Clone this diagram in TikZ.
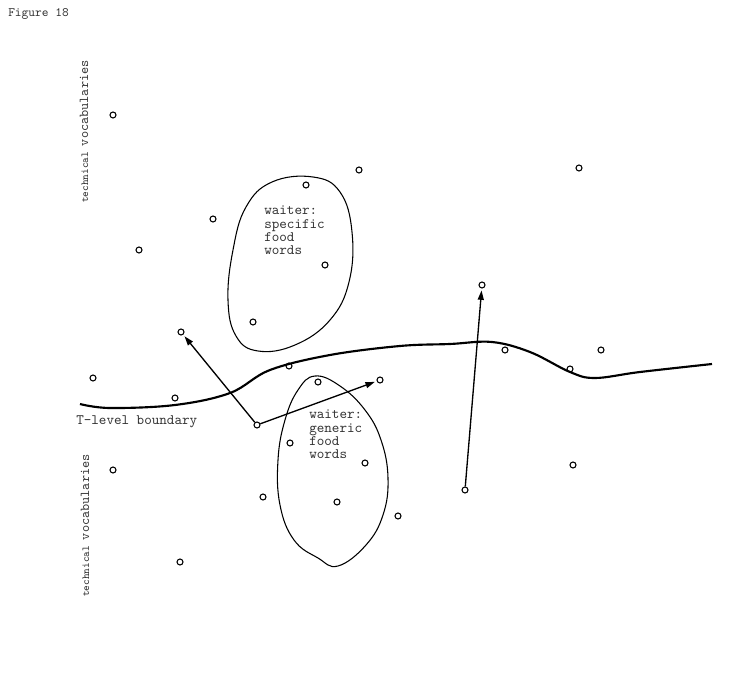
\documentclass[tikz,border=0pt]{standalone}
\usepackage{fontspec}
\usetikzlibrary{arrows.meta}
\begin{document}
\begin{tikzpicture}[x=0.75pt,y=-0.75pt,
  pt/.style={circle,draw,line width=0.8pt,inner sep=0pt,minimum size=4.5pt},
  lbl/.style={font=\ttfamily\fontsize{10.8}{10}\selectfont,text=black!80,align=left,inner sep=0pt},
  blob/.style={draw,line width=0.8pt},
  arr/.style={line width=1pt,-{Triangle[length=7pt,width=4.5pt]},shorten >=1.5pt}]
\useasboundingbox (0,0) rectangle (750,695);
\node[anchor=west,font=\ttfamily\fontsize{9.6}{9}\selectfont,text=black!80,inner sep=0pt] (fig) at (8,14) {Figure 18};
\node[rotate=90,anchor=base west,inner sep=0pt,text=black!80,font=\ttfamily] (tv1) at (88,203)
  {\fontsize{8}{8}\selectfont technical \fontsize{10.2}{10}\selectfont vocabularies};
\node[rotate=90,anchor=base west,inner sep=0pt,text=black!80,font=\ttfamily] (tv2) at (89,597)
  {\fontsize{8}{8}\selectfont technical \fontsize{10.2}{10}\selectfont vocabularies};
% boundary
\draw[line width=1.6pt] plot[smooth,tension=0.6] coordinates {(80,404) (110,408) (175,405) (230,393) (270,370) (330,355) (400,346) (450,344) (492,342) (530,352) (570,372) (595,378) (640,372) (712,364)};
\node[anchor=west,lbl] (tlb) at (76,422) {T-level boundary};
% blobs
\draw[blob] plot[smooth cycle,tension=0.7] coordinates {(313,177) (340,192) (352,232) (349,282) (330,320) (295,345) (258,351) (236,336) (228,300) (233,250) (246,207) (272,182)};
\draw[blob] plot[smooth cycle,tension=0.7] coordinates {(315,376) (340,386) (365,410) (381,440) (388,478) (383,515) (366,545) (338,566) (318,558) (294,540) (280,505) (278,460) (285,420) (298,390)};
\node[anchor=north west,lbl] (t1) at (264,206) {waiter:\\specific\\food\\words};
\node[anchor=north west,lbl] (t2) at (309,410) {waiter:\\generic\\food\\words};
% points
\foreach \i/\x/\y in {a/113/115, b/359/170, c/579/168, d/306/185, e/213/219, f/139/250, g/325/265, h/253/322, k/93/378, l/175/398, m/289/366, n/318/382, o/505/350, p/601/350, q/570/369, r/290/443, s/365/463, t/113/470, u/573/465, v/263/497, w/337/502, x/398/516, y/180/562}
  \node[pt] (\i) at (\x,\y) {};
\node[pt] (A) at (257,425) {};
\node[pt] (B) at (181,332) {};
\node[pt] (C) at (380,380) {};
\node[pt] (D) at (465,490) {};
\node[pt] (E) at (482,285) {};
\draw[arr] (A) -- (B);
\draw[arr] (A) -- (C);
\draw[arr] (D) -- (E);
\end{tikzpicture}
\end{document}
